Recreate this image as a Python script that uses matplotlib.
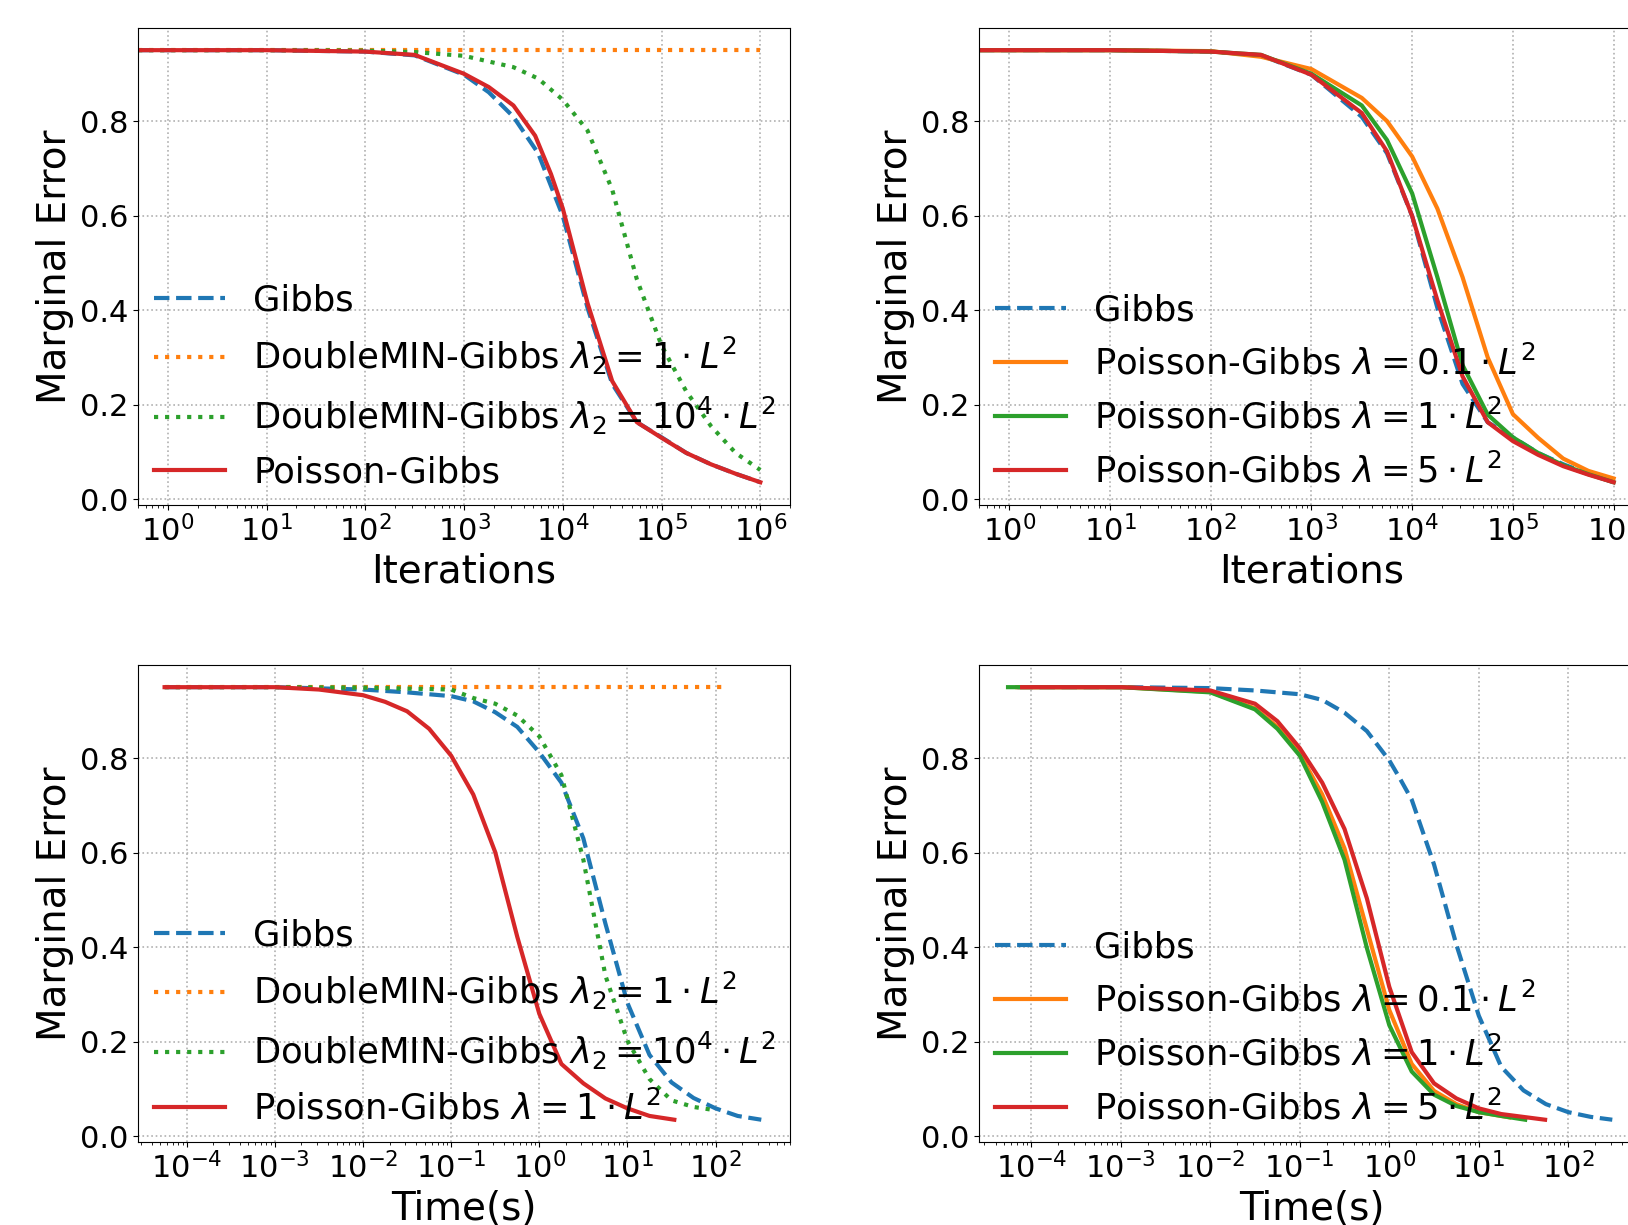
import matplotlib
matplotlib.use("Agg")
import matplotlib.pyplot as plt

# ---- panel (a): error vs iterations, DoubleMIN comparison ----
it_gibbs = [0.5, 1, 10, 100, 316, 1000, 1778, 3162, 5623, 10000, 17783, 31623, 56234, 1e5, 1.78e5, 3.16e5, 5.62e5, 1e6]
err_gibbs = [0.95, 0.95, 0.95, 0.947, 0.939, 0.898, 0.861, 0.809, 0.732, 0.599, 0.405, 0.244, 0.163, 0.131, 0.098, 0.074, 0.054, 0.036]

it_dmin1 = [0.5, 1, 10, 100, 1000, 10000, 1e5, 1e6]
err_dmin1 = [0.95, 0.95, 0.95, 0.95, 0.95, 0.95, 0.95, 0.95]

it_dmin4 = [0.5, 1, 10, 100, 316, 1000, 3162, 5623, 10000, 17783, 31623, 56234, 1e5, 1.78e5, 3.16e5, 5.62e5, 1e6]
err_dmin4 = [0.95, 0.95, 0.95, 0.949, 0.946, 0.938, 0.914, 0.890, 0.845, 0.780, 0.655, 0.465, 0.325, 0.228, 0.155, 0.098, 0.062]

it_pg = [0.5, 1, 10, 100, 316, 1000, 1778, 3162, 5248, 7586, 10000, 17783, 31623, 56234, 1e5, 1.78e5, 3.16e5, 5.62e5, 1e6]
err_pg = [0.95, 0.95, 0.95, 0.947, 0.940, 0.900, 0.872, 0.833, 0.769, 0.688, 0.615, 0.415, 0.250, 0.163, 0.130, 0.098, 0.074, 0.054, 0.036]

# ---- panel (b): error vs iterations, Poisson-Gibbs lambdas ----
it_b = [0.5, 1, 10, 100, 316, 1000, 3162, 5623, 10000, 17783, 31623, 56234, 1e5, 1.78e5, 3.16e5, 5.62e5, 1e6]
err_b_gibbs = [0.95, 0.95, 0.95, 0.947, 0.939, 0.898, 0.809, 0.732, 0.599, 0.405, 0.244, 0.163, 0.131, 0.098, 0.074, 0.054, 0.036]
err_b_l01 = [0.95, 0.95, 0.95, 0.948, 0.936, 0.910, 0.849, 0.800, 0.725, 0.615, 0.470, 0.300, 0.180, 0.130, 0.086, 0.060, 0.044]
err_b_l1 = [0.95, 0.95, 0.95, 0.947, 0.940, 0.900, 0.833, 0.760, 0.647, 0.470, 0.284, 0.179, 0.131, 0.098, 0.072, 0.053, 0.036]
err_b_l5 = [0.95, 0.95, 0.95, 0.947, 0.940, 0.898, 0.817, 0.736, 0.599, 0.421, 0.260, 0.163, 0.123, 0.094, 0.070, 0.052, 0.036]

# ---- panel (c): error vs wall time, DoubleMIN comparison ----
t_c_gibbs = [5.6e-5, 1e-4, 1e-3, 1e-2, 3.16e-2, 0.1, 0.178, 0.316, 0.562, 1, 1.78, 3.16, 5.62, 10, 17.8, 31.6, 56.2, 100, 178, 330]
err_c_gibbs = [0.95, 0.95, 0.95, 0.945, 0.939, 0.931, 0.920, 0.897, 0.866, 0.812, 0.748, 0.630, 0.450, 0.282, 0.172, 0.114, 0.081, 0.059, 0.043, 0.035]

t_c_dmin1 = [5.6e-5, 1e-4, 1e-3, 1e-2, 0.1, 1, 10, 125]
err_c_dmin1 = [0.95, 0.95, 0.95, 0.95, 0.95, 0.95, 0.95, 0.95]

t_c_dmin4 = [5.6e-5, 1e-4, 1e-3, 1e-2, 0.1, 0.178, 0.316, 0.562, 1, 1.78, 3.16, 5.62, 10, 17.8, 31.6, 56.2, 100]
err_c_dmin4 = [0.95, 0.95, 0.95, 0.949, 0.945, 0.927, 0.915, 0.890, 0.846, 0.764, 0.585, 0.340, 0.202, 0.121, 0.076, 0.062, 0.055]

t_c_pg = [5.6e-5, 1e-4, 1e-3, 3.16e-3, 1e-2, 1.78e-2, 3.16e-2, 5.62e-2, 0.1, 0.178, 0.316, 0.562, 1, 1.78, 3.16, 5.62, 10, 17.8, 34]
err_c_pg = [0.95, 0.95, 0.95, 0.945, 0.933, 0.919, 0.899, 0.862, 0.805, 0.723, 0.601, 0.422, 0.259, 0.153, 0.112, 0.080, 0.059, 0.043, 0.035]

# ---- panel (d): error vs wall time, Poisson-Gibbs lambdas ----
t_d_gibbs = [7e-5, 1e-4, 1e-3, 1e-2, 3.16e-2, 0.1, 0.178, 0.316, 0.562, 1, 1.33, 1.78, 3.16, 5.62, 10, 17.8, 31.6, 56.2, 100, 178, 310]
err_d_gibbs = [0.95, 0.95, 0.95, 0.948, 0.943, 0.935, 0.923, 0.896, 0.857, 0.795, 0.755, 0.712, 0.575, 0.405, 0.255, 0.147, 0.097, 0.068, 0.051, 0.041, 0.035]

t_d_l01 = [7e-5, 1e-4, 1e-3, 1e-2, 3.16e-2, 5.62e-2, 0.1, 0.178, 0.316, 0.562, 1, 1.78, 3.16, 5.62, 10, 22]
err_d_l01 = [0.95, 0.95, 0.95, 0.940, 0.905, 0.866, 0.809, 0.723, 0.609, 0.438, 0.267, 0.153, 0.096, 0.068, 0.051, 0.040]

t_d_l1 = [5.5e-5, 1e-4, 1e-3, 1e-2, 3.16e-2, 5.62e-2, 0.1, 0.178, 0.316, 0.562, 1, 1.78, 3.16, 5.62, 10, 17.8, 33]
err_d_l1 = [0.95, 0.95, 0.95, 0.939, 0.903, 0.862, 0.805, 0.707, 0.585, 0.398, 0.235, 0.137, 0.088, 0.064, 0.051, 0.043, 0.035]

t_d_l5 = [7.9e-5, 1e-4, 1e-3, 1e-2, 3.16e-2, 5.62e-2, 0.1, 0.178, 0.316, 0.562, 1, 1.78, 3.16, 5.62, 10, 17.8, 55]
err_d_l5 = [0.95, 0.95, 0.95, 0.943, 0.915, 0.878, 0.821, 0.748, 0.650, 0.503, 0.316, 0.178, 0.112, 0.080, 0.059, 0.047, 0.035]

C_BLUE, C_ORANGE, C_GREEN, C_RED = "#1f77b4", "#ff7f0e", "#2ca02c", "#d62728"
LW = 3

fig = plt.figure(figsize=(16.28, 12.25), dpi=100)
H = 0.389
ax_a = fig.add_axes([0.0848, 0.5878, 0.4005, H])
ax_b = fig.add_axes([0.6013, 0.5878, 0.4085, H])
ax_c = fig.add_axes([0.0848, 0.0678, 0.4005, H])
ax_d = fig.add_axes([0.6013, 0.0678, 0.4085, H])

ax_a.plot(it_gibbs, err_gibbs, "--", color=C_BLUE, lw=LW, label="Gibbs")
ax_a.plot(it_dmin1, err_dmin1, ":", color=C_ORANGE, lw=LW, label=r"DoubleMIN-Gibbs $\lambda_2 = 1 \cdot L^2$")
ax_a.plot(it_dmin4, err_dmin4, ":", color=C_GREEN, lw=LW, label=r"DoubleMIN-Gibbs $\lambda_2 = 10^4 \cdot L^2$")
ax_a.plot(it_pg, err_pg, "-", color=C_RED, lw=LW, label="Poisson-Gibbs")

ax_b.plot(it_b, err_b_gibbs, "--", color=C_BLUE, lw=LW, label="Gibbs")
ax_b.plot(it_b, err_b_l01, "-", color=C_ORANGE, lw=LW, label=r"Poisson-Gibbs $\lambda = 0.1 \cdot L^2$")
ax_b.plot(it_b, err_b_l1, "-", color=C_GREEN, lw=LW, label=r"Poisson-Gibbs $\lambda = 1 \cdot L^2$")
ax_b.plot(it_b, err_b_l5, "-", color=C_RED, lw=LW, label=r"Poisson-Gibbs $\lambda = 5 \cdot L^2$")

ax_c.plot(t_c_gibbs, err_c_gibbs, "--", color=C_BLUE, lw=LW, label="Gibbs")
ax_c.plot(t_c_dmin1, err_c_dmin1, ":", color=C_ORANGE, lw=LW, label=r"DoubleMIN-Gibbs $\lambda_2 = 1 \cdot L^2$")
ax_c.plot(t_c_dmin4, err_c_dmin4, ":", color=C_GREEN, lw=LW, label=r"DoubleMIN-Gibbs $\lambda_2 = 10^4 \cdot L^2$")
ax_c.plot(t_c_pg, err_c_pg, "-", color=C_RED, lw=LW, label=r"Poisson-Gibbs $\lambda = 1 \cdot L^2$")

ax_d.plot(t_d_gibbs, err_d_gibbs, "--", color=C_BLUE, lw=LW, label="Gibbs")
ax_d.plot(t_d_l01, err_d_l01, "-", color=C_ORANGE, lw=LW, label=r"Poisson-Gibbs $\lambda = 0.1 \cdot L^2$")
ax_d.plot(t_d_l1, err_d_l1, "-", color=C_GREEN, lw=LW, label=r"Poisson-Gibbs $\lambda = 1 \cdot L^2$")
ax_d.plot(t_d_l5, err_d_l5, "-", color=C_RED, lw=LW, label=r"Poisson-Gibbs $\lambda = 5 \cdot L^2$")

for ax in (ax_a, ax_b, ax_c, ax_d):
    ax.set_xscale("log")
    ax.set_ylim(-0.012, 0.996)
    ax.set_yticks([0.0, 0.2, 0.4, 0.6, 0.8])
    ax.grid(True, linestyle=":", color="#b0b0b0", lw=1.2)
    ax.tick_params(labelsize=22)
    ax.set_ylabel("Marginal Error", fontsize=28)
    ax.legend(loc="lower left", frameon=False, fontsize=25.5, borderaxespad=0.05)

ax_a.set_xlim(0.5, 2e6)
ax_b.set_xlim(0.5, 2e6)
ax_c.set_xlim(2.8e-5, 700)
ax_d.set_xlim(2.6e-5, 700)
ax_a.set_xticks([1, 10, 100, 1e3, 1e4, 1e5, 1e6])
ax_b.set_xticks([1, 10, 100, 1e3, 1e4, 1e5, 1e6])
ax_c.set_xticks([1e-4, 1e-3, 1e-2, 1e-1, 1, 10, 100])
ax_d.set_xticks([1e-4, 1e-3, 1e-2, 1e-1, 1, 10, 100])
ax_a.set_xlabel("Iterations", fontsize=28)
ax_b.set_xlabel("Iterations", fontsize=28)
ax_c.set_xlabel("Time(s)", fontsize=28)
ax_d.set_xlabel("Time(s)", fontsize=28)

fig.savefig("out.png", dpi=100)
